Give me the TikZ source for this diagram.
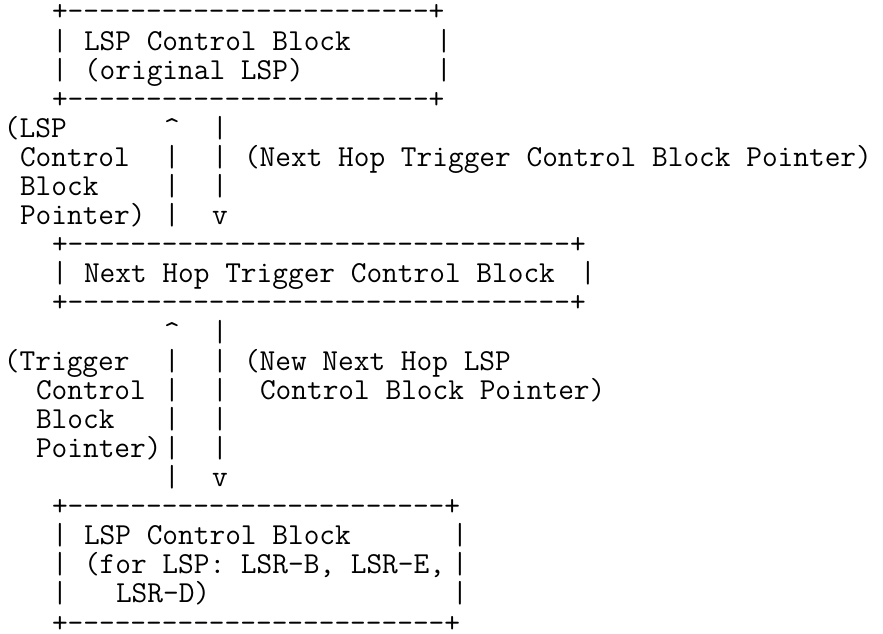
\documentclass[tikz,border=0pt]{standalone}
\usepackage{fontspec}
\tikzset{
  asc/.style={anchor=base west, inner sep=0pt, outer sep=0pt,
    font=\ttfamily\fontsize{30.48}{29.1}\selectfont\frenchspacing}
}
% place text: column, line, name, text
\newcommand\asc[4]{\node[asc] (#3) at ({4+16*#1},{634-21-29.1*#2}) {#4};}
\begin{document}
\begin{tikzpicture}[x=1pt,y=1pt]
\useasboundingbox (0,0) rectangle (883,634);
% top box
\asc{3}{0}{atop}{+-----------------------+}
\asc{3}{1}{al1}{|}\asc{5}{1}{at1}{LSP Control Block}\asc{27}{1}{ar1}{|}
\asc{3}{2}{al2}{|}\asc{5}{2}{at2}{(original LSP)}\asc{27}{2}{ar2}{|}
\asc{3}{3}{abot}{+-----------------------+}
% first pair of arrows
\asc{0}{4}{la1}{(LSP}\asc{10}{4}{up1}{\textasciicircum}\asc{13}{4}{dn1}{|}
\asc{1}{5}{la2}{Control}\asc{10}{5}{up2}{|}\asc{13}{5}{dn2}{|}
\asc{15}{5}{ra1}{(Next Hop Trigger Control Block Pointer)}
\asc{1}{6}{la3}{Block}\asc{10}{6}{up3}{|}\asc{13}{6}{dn3}{|}
\asc{1}{7}{la4}{Pointer)}\asc{10}{7}{up4}{|}\asc{13}{7}{dn4}{v}
% middle box
\asc{3}{8}{btop}{+--------------------------------+}
\asc{3}{9}{bl1}{|}\asc{5}{9}{bt1}{Next Hop Trigger Control Block}\asc{36}{9}{br1}{|}
\asc{3}{10}{bbot}{+--------------------------------+}
% second pair of arrows
\asc{10}{11}{up5}{\textasciicircum}\asc{13}{11}{dn5}{|}
\asc{0}{12}{lb1}{(Trigger}\asc{10}{12}{up6}{|}\asc{13}{12}{dn6}{|}
\asc{15}{12}{rb1}{(New Next Hop LSP}
\asc{2}{13}{lb2}{Control}\asc{10}{13}{up7}{|}\asc{13}{13}{dn7}{|}
\asc{16}{13}{rb2}{Control Block Pointer)}
\asc{2}{14}{lb3}{Block}\asc{10}{14}{up8}{|}\asc{13}{14}{dn8}{|}
\asc{2}{15}{lb4}{Pointer)}\asc{10}{15}{up9}{|}\asc{13}{15}{dn9}{|}
\asc{10}{16}{up10}{|}\asc{13}{16}{dn10}{v}
% bottom box
\asc{3}{17}{ctop}{+------------------------+}
\asc{3}{18}{cl1}{|}\asc{5}{18}{ct1}{LSP Control Block}\asc{28}{18}{cr1}{|}
\asc{3}{19}{cl2}{|}\asc{5}{19}{ct2}{(for LSP: LSR-B, LSR-E,}\asc{28}{19}{cr2}{|}
\asc{3}{20}{cl3}{|}\asc{7}{20}{ct3}{LSR-D)}\asc{28}{20}{cr3}{|}
\asc{3}{21}{cbot}{+------------------------+}
\end{tikzpicture}
\end{document}
